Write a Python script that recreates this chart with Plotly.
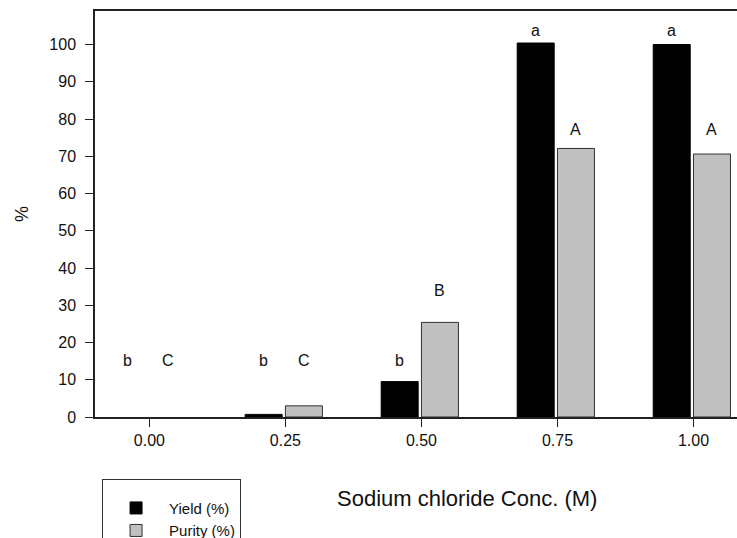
import plotly.graph_objects as go

# ---- data ----
concentrations = [0.0, 0.25, 0.50, 0.75, 1.00]
tick_labels = ["0.00", "0.25", "0.50", "0.75", "1.00"]
yield_pct = [0.0, 0.7, 9.5, 100.4, 100.0]
purity_pct = [0.0, 3.0, 25.4, 72.1, 70.6]
yield_letters = ["b", "b", "b", "a", "a"]
purity_letters = ["C", "C", "B", "A", "A"]
yield_letter_y = [15.2, 15.2, 15.2, 103.7, 103.7]
purity_letter_y = [15.2, 15.2, 34.0, 77.3, 77.3]

FONT = "Liberation Sans, Arial, Helvetica, sans-serif"
BAR_W = 0.068
Y_OFF = -0.074
P_OFF = 0.0
YIELD_STYLE = dict(color="#000000", line=dict(color="#000000", width=1))
PURITY_STYLE = dict(color="#c0c0c0", line=dict(color="#303030", width=1))

fig = go.Figure()
fig.add_trace(go.Bar(
    x=concentrations, y=yield_pct, name="Yield (%)", showlegend=False,
    width=BAR_W, offset=Y_OFF,
    marker=dict(color="#000000",
                line=dict(color="#000000", width=[0 if v == 0 else 1 for v in yield_pct])),
))
fig.add_trace(go.Bar(
    x=concentrations, y=purity_pct, name="Purity (%)", showlegend=False,
    width=BAR_W, offset=P_OFF,
    marker=dict(color="#c0c0c0",
                line=dict(color="#303030", width=[0 if v == 0 else 1 for v in purity_pct])),
))
# legend entries
fig.add_trace(go.Bar(x=[None], y=[None], name="Yield (%)", marker=YIELD_STYLE))
fig.add_trace(go.Bar(x=[None], y=[None], name="Purity (%)", marker=PURITY_STYLE))

annotations = []
for xv, t, yv in zip(concentrations, yield_letters, yield_letter_y):
    annotations.append(dict(x=xv + Y_OFF + BAR_W / 2, y=yv, text=t, showarrow=False,
                            xref="x", yref="y", font=dict(size=16, color="#111", family=FONT)))
for xv, t, yv in zip(concentrations, purity_letters, purity_letter_y):
    annotations.append(dict(x=xv + P_OFF + BAR_W / 2, y=yv, text=t, showarrow=False,
                            xref="x", yref="y", font=dict(size=16, color="#111", family=FONT)))
annotations.append(dict(x=0.579, y=-0.2, xref="paper", yref="paper",
                        text="Sodium chloride Conc. (M)", showarrow=False,
                        xanchor="center", yanchor="middle",
                        font=dict(size=22, color="#111", family=FONT)))

fig.update_layout(
    width=737, height=538,
    margin=dict(l=95, r=0, t=11, b=121, autoexpand=False),
    paper_bgcolor="white", plot_bgcolor="white",
    font=dict(family=FONT, size=16, color="#111"),
    barmode="overlay",
    showlegend=True,
    legend=dict(
        x=0.011, y=-0.1527, xanchor="left", yanchor="top",
        bordercolor="#333", borderwidth=1, bgcolor="white",
        font=dict(size=15, family=FONT), tracegroupgap=0, itemwidth=56,
        title=dict(text=" ", font=dict(size=9)),
    ),
    annotations=annotations,
)
fig.update_xaxes(
    range=[-0.1, 1.08], automargin=False,
    tickvals=concentrations, ticktext=tick_labels,
    showline=True, linecolor="#222", linewidth=1.5, mirror=True,
    ticks="outside", ticklen=8, tickcolor="#222", tickwidth=1,
    showgrid=False, zeroline=False,
    tickfont=dict(size=16),
)
fig.update_yaxes(
    range=[0, 109], automargin=False,
    tickvals=list(range(0, 101, 10)),
    showline=True, linecolor="#222", linewidth=1.5,
    ticks="outside", ticklen=8, tickcolor="#222", tickwidth=1,
    ticklabelstandoff=6,
    showgrid=False, zeroline=False,
    tickfont=dict(size=16),
    title=dict(text="%", font=dict(size=18), standoff=16),
)

fig.write_html("out.html", post_script="document.body.style.margin='0';",
               config={"displayModeBar": False})
